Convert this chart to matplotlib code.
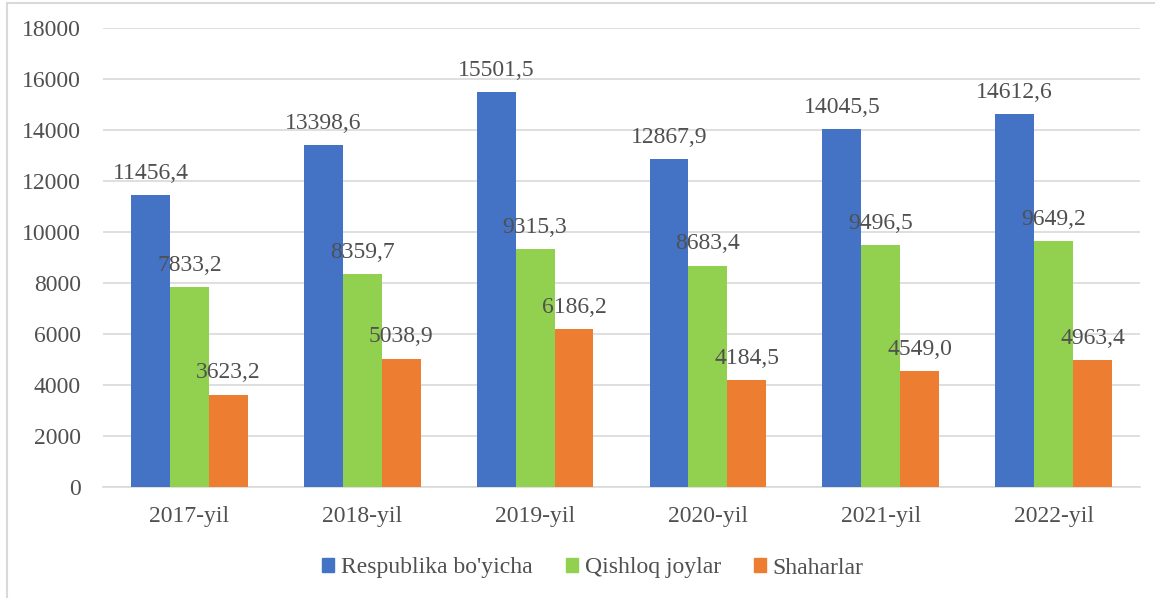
import matplotlib
matplotlib.use("Agg")
import matplotlib.pyplot as plt
import numpy as np
from matplotlib.patches import Rectangle

categories = ["2017-yil", "2018-yil", "2019-yil", "2020-yil", "2021-yil", "2022-yil"]
respublika = [11456.4, 13398.6, 15501.5, 12867.9, 14045.5, 14612.6]
qishloq = [7833.2, 8359.7, 9315.3, 8683.4, 9496.5, 9649.2]
shaharlar = [3623.2, 5038.9, 6186.2, 4184.5, 4549.0, 4963.4]
series_names = ["Respublika bo'yicha", "Qishloq joylar", "Shaharlar"]
colors = ["#4472C4", "#92D050", "#ED7D31"]
yticks = list(range(0, 18001, 2000))

plt.rcParams['font.family'] = ['Liberation Serif', 'DejaVu Serif']
FS = 17
TXT = "#505050"

fig = plt.figure(figsize=(11.55, 5.98), dpi=100)
ax = fig.add_axes([103/1155, 1-487/598, 1037/1155, 459/598])

x = np.arange(len(categories))
w = 0.225
series = [respublika, qishloq, shaharlar]
for i, (vals, col) in enumerate(zip(series, colors)):
    pos = x + (i - 1) * w
    ax.bar(pos, vals, width=w, color=col, zorder=3, linewidth=0)
    for p, v in zip(pos, vals):
        ax.annotate(f"{v:.1f}".replace(".", ","), (p, v), xytext=(0, 8),
                    textcoords="offset points", ha="center", va="bottom",
                    fontsize=FS, color=TXT, zorder=4)

ax.set_xlim(-0.5, len(categories) - 0.5)
ax.set_ylim(0, 18000)
ax.set_yticks(yticks)
ax.set_yticklabels([str(t) for t in yticks], fontsize=FS, color=TXT)
ax.set_xticks(x)
ax.set_xticklabels(categories, fontsize=FS, color=TXT)
ax.tick_params(axis='both', length=0)
ax.tick_params(axis='y', pad=16)
ax.tick_params(axis='x', pad=14)
ax.grid(axis='y', color="#D9D9D9", linewidth=1.2, zorder=0)
for s in ["top", "right", "left"]:
    ax.spines[s].set_visible(False)
ax.spines["bottom"].set_color("#D9D9D9")
ax.spines["bottom"].set_linewidth(1.2)

handles = [Rectangle((0, 0), 1, 1, color=c) for c in colors]
fig.legend(handles, series_names, loc="center", bbox_to_anchor=(593/1155, 1-568/598),
           ncol=3, frameon=False, fontsize=FS, handlelength=0.5, handleheight=0.5,
           handletextpad=0.3, columnspacing=1.4, labelcolor=TXT)

fig.patches.append(Rectangle((7/1155, -0.05), 1.1, 1 - 3/598 + 0.05, transform=fig.transFigure,
                             fill=False, edgecolor="#D9D9D9", linewidth=1.5))

fig.savefig("out.png", dpi=100)
